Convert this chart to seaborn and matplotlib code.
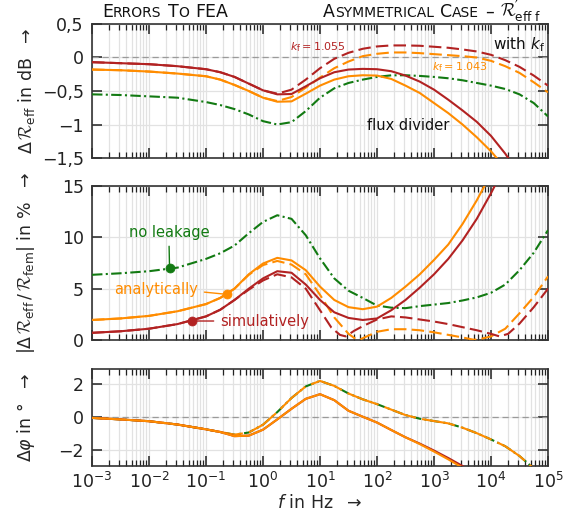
import numpy as np
import pandas as pd
import seaborn as sns
import matplotlib.pyplot as plt
import matplotlib.ticker as ticker
import matplotlib.transforms as mtrans

# frequency grid, log10(f / Hz)
LOGF = [-3, -2.5, -2, -1.5, -1, -0.75, -0.5, -0.25, 0, 0.25, 0.5, 0.75, 1, 1.25,
        1.5, 1.75, 2, 2.25, 2.5, 2.75, 3, 3.25, 3.5, 3.75, 4, 4.25, 4.5, 4.75, 5]

# top panel: error of R_eff in dB
red_db = [-0.07, -0.085, -0.10, -0.13, -0.175, -0.22, -0.29, -0.39, -0.49, -0.55, -0.545, -0.43, -0.31,
          -0.22, -0.18, -0.17, -0.175, -0.205, -0.27, -0.36, -0.48, -0.63, -0.79, -0.96, -1.17, -1.435,
          -1.75, -2.1, -2.5]
orange_db = [-0.18, -0.19, -0.21, -0.24, -0.28, -0.33, -0.41, -0.50, -0.60, -0.66, -0.655, -0.54, -0.42,
             -0.33, -0.28, -0.265, -0.27, -0.32, -0.42, -0.53, -0.68, -0.83, -1.0, -1.19, -1.40, -1.65,
             -1.95, -2.3, -2.7]
green_db = [-0.55, -0.56, -0.58, -0.60, -0.665, -0.71, -0.77, -0.85, -0.95, -1.0, -0.965, -0.80, -0.60,
            -0.46, -0.38, -0.33, -0.29, -0.266, -0.265, -0.275, -0.29, -0.31, -0.34, -0.38, -0.42, -0.47,
            -0.55, -0.68, -0.88]
red_kf_db = [-0.07, -0.085, -0.10, -0.13, -0.175, -0.22, -0.29, -0.39, -0.49, -0.54, -0.48, -0.33, -0.16,
             -0.02, 0.07, 0.13, 0.165, 0.18, 0.18, 0.175, 0.16, 0.145, 0.12, 0.09, 0.04, -0.04, -0.14,
             -0.27, -0.42]
orange_kf_db = [-0.18, -0.19, -0.21, -0.24, -0.28, -0.33, -0.41, -0.50, -0.60, -0.65, -0.59, -0.45, -0.30,
                -0.16, -0.06, 0.02, 0.055, 0.075, 0.075, 0.065, 0.05, 0.035, 0.02, 0.0, -0.05, -0.13,
                -0.23, -0.37, -0.52]

# middle panel: |dR_eff / R_fem| in %
green_pct = [6.35, 6.5, 6.7, 7.05, 7.9, 8.45, 9.2, 10.4, 11.5, 12.15, 11.8, 10.2, 7.95, 6.0, 4.8, 4.1,
             3.35, 3.15, 3.1, 3.3, 3.45, 3.6, 3.85, 4.15, 4.6, 5.4, 6.8, 8.5, 10.7]
orange_pct = [1.95, 2.1, 2.35, 2.8, 3.5, 4.1, 5.0, 6.4, 7.45, 8.0, 7.75, 6.8, 5.2, 3.9, 3.2, 3.0, 3.25,
              4.1, 5.2, 6.4, 7.8, 9.3, 11.3, 13.6, 16.2, 19.0, 22.0, 25.0, 28.0]
red_pct = [0.7, 0.85, 1.1, 1.55, 2.3, 2.95, 3.9, 5.0, 6.0, 6.7, 6.55, 5.4, 3.9, 2.7, 2.15, 1.95, 2.1,
           2.9, 3.9, 5.1, 6.4, 7.9, 9.7, 11.8, 14.3, 17.0, 20.0, 23.0, 26.0]
orange_kf_logf = [-3, -2.5, -2, -1.5, -1, -0.75, -0.5, -0.25, 0, 0.25, 0.5, 0.75, 1, 1.25, 1.5, 1.6,
                  1.7, 1.8, 2, 2.25, 2.5, 2.75, 3, 3.25, 3.5, 3.7, 3.85, 4, 4.25, 4.5, 4.75, 5]
orange_kf_pct = [1.95, 2.1, 2.35, 2.8, 3.5, 4.1, 5.0, 6.35, 7.3, 7.7, 7.35, 6.4, 4.4, 2.2, 0.6, 0.2,
                 0.05, 0.3, 0.8, 1.05, 1.05, 0.95, 0.75, 0.5, 0.25, 0.02, 0.15, 0.35, 1.1, 2.6, 4.2, 6.2]
red_kf_logf = [-3, -2.5, -2, -1.5, -1, -0.75, -0.5, -0.25, 0, 0.25, 0.5, 0.75, 1, 1.2, 1.35, 1.45, 1.6,
               1.75, 2, 2.25, 2.5, 2.75, 3, 3.25, 3.5, 3.75, 4, 4.15, 4.3, 4.5, 4.75, 5]
red_kf_pct = [0.7, 0.85, 1.1, 1.55, 2.3, 2.95, 3.9, 4.9, 5.8, 6.4, 6.1, 5.0, 2.9, 1.2, 0.5, 0.35, 0.9,
              1.35, 2.0, 2.3, 2.2, 2.0, 1.8, 1.55, 1.25, 0.95, 0.6, 0.35, 0.6, 1.6, 3.2, 5.0]

# bottom panel: phase error in degrees
phase_noleak = [-0.05, -0.14, -0.25, -0.45, -0.74, -0.9, -1.06, -0.93, -0.46, 0.3, 1.15, 1.85, 2.18,
                1.88, 1.42, 1.07, 0.78, 0.45, 0.12, -0.1, -0.24, -0.38, -0.64, -0.97, -1.35, -1.76,
                -2.35, -3.1, -3.9]
phase_orange = [-0.05, -0.14, -0.25, -0.45, -0.74, -0.9, -1.15, -1.12, -0.76, -0.14, 0.5, 1.1, 1.38,
                1.02, 0.38, 0.02, -0.33, -0.78, -1.22, -1.63, -2.08, -2.55, -3.05, -3.6, -4.1, -4.6,
                -5.1, -5.6, -6.1]
phase_red = [-0.05, -0.14, -0.25, -0.45, -0.74, -0.9, -1.15, -1.12, -0.76, -0.14, 0.5, 1.1, 1.38,
             1.02, 0.38, 0.02, -0.33, -0.78, -1.22, -1.6, -2.02, -2.47, -2.95, -3.5, -4.0, -4.5,
             -5.0, -5.5, -6.0]

# marker points for the annotations (log10 f, value)
dot_green = (-1.64, 6.98)
dot_orange = (-0.64, 4.45)
dot_red = (-1.25, 1.85)

RED = "#b22222"
ORANGE = "#ff8c00"
GREEN = "#127a12"
GRID = "#e2e2e2"

sns.set_theme(style="ticks")
plt.rcParams["font.family"] = ["DejaVu Sans"]
plt.rcParams["mathtext.fontset"] = "custom"
plt.rcParams["mathtext.rm"] = "DejaVu Sans"
plt.rcParams["mathtext.it"] = "DejaVu Sans:italic"
plt.rcParams["mathtext.bf"] = "DejaVu Sans:bold"
plt.rcParams["mathtext.cal"] = "cmsy10"
plt.rcParams["axes.unicode_minus"] = True

fig = plt.figure(figsize=(5.73, 5.26), dpi=100)
ax1 = fig.add_axes([0.1606, 0.6996, 0.7958, 0.2548])
ax2 = fig.add_axes([0.1606, 0.3536, 0.7958, 0.2928])
ax3 = fig.add_axes([0.1606, 0.1141, 0.7958, 0.1844])

f = 10.0 ** np.array(LOGF)
DASH = (0, (6, 2.5))
DASHDOT = (0, (5, 1.6, 1, 1.6))


def curve(ax, x, y, color, ls="-", lw=1.5, z=3):
    df = pd.DataFrame({"f": x, "v": y})
    sns.lineplot(data=df, x="f", y="v", ax=ax, color=color, linewidth=lw,
                 linestyle=ls, sort=False, estimator=None, zorder=z)


# top
curve(ax1, f, green_db, GREEN, DASHDOT)
curve(ax1, f, orange_kf_db, ORANGE, DASH)
curve(ax1, f, red_kf_db, RED, DASH)
curve(ax1, f, orange_db, ORANGE)
curve(ax1, f, red_db, RED)

# middle
curve(ax2, f, green_pct, GREEN, DASHDOT)
curve(ax2, 10.0 ** np.array(orange_kf_logf), orange_kf_pct, ORANGE, DASH)
curve(ax2, 10.0 ** np.array(red_kf_logf), red_kf_pct, RED, DASH)
curve(ax2, f, orange_pct, ORANGE)
curve(ax2, f, red_pct, RED)

# bottom
curve(ax3, f, phase_noleak, GREEN, DASHDOT)
curve(ax3, f, phase_noleak, ORANGE, (0, (16, 3)))
curve(ax3, f, phase_red, RED)
curve(ax3, f, phase_orange, ORANGE)

for ax in (ax1, ax3):
    ax.axhline(0, color="#9a9a9a", lw=0.9, ls=(0, (5, 3)), zorder=2)

for ax in (ax1, ax2, ax3):
    ax.set_xscale("log")
    ax.set_xlim(1e-3, 1e5)
    ax.xaxis.set_major_locator(ticker.LogLocator(base=10, numticks=20))
    ax.xaxis.set_minor_locator(ticker.LogLocator(base=10, subs=np.arange(2, 10), numticks=200))
    ax.grid(which="major", axis="both", color=GRID, lw=0.9, zorder=0)
    ax.grid(which="minor", axis="x", color=GRID, lw=0.9, zorder=0)
    ax.set_axisbelow(True)
    ax.tick_params(which="both", direction="in", top=True, right=True, colors="#222222",
                   labelsize=12.5)
    ax.tick_params(which="major", length=7, width=1.1, pad=6)
    ax.tick_params(which="minor", length=4, width=0.9)
    ax.tick_params(axis="y", which="minor", left=False, right=False)
    for s in ax.spines.values():
        s.set_color("#333333")
        s.set_linewidth(1.2)
    ax.set_xlabel("")
    ax.set_ylabel("")

ax1.tick_params(labelbottom=False)
ax2.tick_params(labelbottom=False)

ax1.set_ylim(-1.5, 0.5)
ax1.set_yticks([0.5, 0, -0.5, -1, -1.5], ["0,5", "0", "\u22120,5", "\u22121", "\u22121,5"])
ax2.set_ylim(0, 15)
ax2.set_yticks([0, 5, 10, 15], ["0", "5", "10", "15"])
ax3.set_ylim(-2.95, 2.9)
ax3.set_yticks([-2, 0, 2], ["\u22122", "0", "2"])
ax3.tick_params(axis="x", pad=4)

ax1.set_ylabel(r"$\Delta\,\mathcal{R}_{\mathrm{eff}}$ in dB  $\rightarrow$", fontsize=12.5)
ax2.set_ylabel(r"$|\Delta\,\mathcal{R}_{\mathrm{eff}}\,/\,\mathcal{R}_{\mathrm{fem}}|$ in %  $\rightarrow$",
               fontsize=12.5)
ax3.set_ylabel(r"$\Delta\varphi$ in °  $\rightarrow$", fontsize=12.5)
for ax in (ax1, ax2, ax3):
    ax.yaxis.set_label_coords(-0.12, 0.5)
ax3.set_xlabel(r"$f$ in Hz  $\rightarrow$", fontsize=12.5, labelpad=2)

# top panel annotations
ax1.text(10 ** 0.96, 0.157, r"$k_{\mathrm{f}} = 1.055$", color=RED, fontsize=8, ha="center", va="center")
ax1.text(10 ** 3.46, -0.14, r"$k_{\mathrm{f}} = 1.043$", color=ORANGE, fontsize=8, ha="center", va="center")
ax1.text(0.993, 0.845, r"with $k_{\mathrm{f}}$", transform=ax1.transAxes, fontsize=11,
         ha="right", va="center", color="#111111")
ax1.text(10 ** 2.55, -1.02, "flux divider", fontsize=10.5, ha="center", va="center", color="#111111")

# middle panel annotations with marker dots
for (lx, v), col in ((dot_green, GREEN), (dot_orange, ORANGE), (dot_red, RED)):
    sns.scatterplot(x=[10 ** lx], y=[v], ax=ax2, color=col, s=42, edgecolor=col, zorder=6)
ax2.annotate("no leakage", xy=(10 ** dot_green[0], dot_green[1]), xytext=(10 ** -1.65, 10.45),
             color=GREEN, fontsize=10.5, ha="center", va="center",
             arrowprops=dict(arrowstyle="-", color=GREEN, lw=1, relpos=(0.5, 0), shrinkA=2, shrinkB=0))
ax2.annotate("analytically", xy=(10 ** dot_orange[0], dot_orange[1]), xytext=(10 ** -1.87, 4.94),
             color=ORANGE, fontsize=10.5, ha="center", va="center",
             arrowprops=dict(arrowstyle="-", color=ORANGE, lw=1, relpos=(1, 0.35), shrinkA=2, shrinkB=0))
ax2.annotate("simulatively", xy=(10 ** dot_red[0], dot_red[1]), xytext=(10 ** 0.02, 1.85),
             color=RED, fontsize=10.5, ha="center", va="center",
             arrowprops=dict(arrowstyle="-", color=RED, lw=1, relpos=(0, 0.5), shrinkA=2, shrinkB=0))


# small-caps style titles drawn piece by piece in pixel coordinates
def caps_title(x_px, y_px, pieces, align="left"):
    r = fig.canvas.get_renderer()
    objs = []
    for s, size in pieces:
        if s is None:
            objs.append((None, size))
            continue
        t = fig.text(0, 0, s, fontsize=size, va="baseline", ha="left",
                     transform=mtrans.IdentityTransform(), color="#111111")
        objs.append((t, t.get_window_extent(r).width))
    total = sum(w for _, w in objs)
    x = x_px if align == "left" else x_px - total
    for t, w in objs:
        if t is not None:
            t.set_position((x, y_px))
        x += w


H = 526
BIG, SMALL = 12.5, 10
caps_title(102, H - 17, [("E", BIG), ("RRORS", SMALL), (None, 6), ("T", BIG), ("O", SMALL),
                         (None, 6), ("FEA", BIG)])
caps_title(541, H - 17, [("A", BIG), ("SYMMETRICAL", SMALL), (None, 6), ("C", BIG), ("ASE", SMALL),
                         (None, 6), ("\u2013", BIG), (None, 6),
                         (r"$\mathcal{R}^{\prime}_{\mathrm{eff}\ \mathrm{f}}$", BIG)], align="right")

fig.savefig("out.png", dpi=100)
